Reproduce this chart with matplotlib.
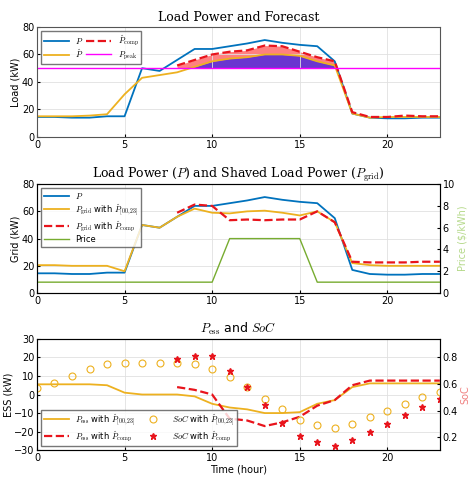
import matplotlib.pyplot as plt
import numpy as np

plt.rcParams['font.size'] = 7
plt.rcParams['mathtext.fontset'] = 'cm'

hours = np.arange(24)
hours_c = np.arange(8, 24)
P = [14.5, 14.5, 14, 14, 15, 15, 50, 48, 56, 64, 64, 66, 68, 70.5, 68.5, 67, 66, 55, 17, 14, 13.5, 13.5, 14, 14]
P_hat = [15, 15, 15, 15.5, 16.5, 31, 43, 45, 47, 51, 55, 57, 58, 60, 60, 59, 55, 52, 17, 14, 14.5, 14.5, 14.5, 14.5]
P_comp = [52, 56, 60, 62, 63, 66.5, 66, 62, 58, 55, 18, 14.5, 14.5, 15.5, 15, 15]
P_peak = 50
Pgrid_hat = [20.5, 20.5, 20, 20, 20, 16, 50, 48, 56, 62, 59, 58.5, 60, 60.5, 59, 57, 60, 52, 22, 20.5, 20, 20, 20, 20]
Pgrid_comp = [59, 65, 64, 53.5, 54, 53.5, 54, 54, 60, 52, 23, 22.5, 22.5, 22.5, 23, 23]
price = [1] * 11 + [5] * 5 + [1] * 8
Pess_hat = [5.5, 5.5, 5.5, 5.5, 5, 1, 0, 0, 0, -1, -5, -7, -8, -10, -10, -9.5, -5, -3, 4, 6, 6, 6, 6, 6]
Pess_comp = [4, 2.5, 0, -13, -14, -17, -15, -12, -6, -3, 5, 7.5, 7.5, 7.5, 7.5, 7.5]
soc_hat = [0.57, 0.61, 0.66, 0.71, 0.75, 0.76, 0.76, 0.76, 0.76, 0.75, 0.71, 0.65, 0.58, 0.49,
           0.41, 0.33, 0.29, 0.27, 0.30, 0.35, 0.40, 0.45, 0.50, 0.54]
soc_comp = [0.786, 0.81, 0.81, 0.70, 0.58, 0.44, 0.31, 0.21, 0.16, 0.13, 0.18, 0.24, 0.30, 0.37, 0.43, 0.49]

blue = '#0072BD'
orange = '#EDB120'
red = '#E8141C'
green = '#77AC30'

fig = plt.figure(figsize=(4.74, 4.82), dpi=100)
L, W = 0.078, 0.85
ax1 = fig.add_axes([L, 0.716, W, 0.228])
ax2 = fig.add_axes([L, 0.392, W, 0.226])
ax3 = fig.add_axes([L, 0.066, W, 0.231])

for ax in (ax1, ax2, ax3):
    ax.set_xlim(0, 23)
    ax.set_xticks([0, 5, 10, 15, 20])
    ax.grid(True, color='#e0e0e0', lw=0.6)
    ax.tick_params(length=2, direction='in', pad=2)
    for s in ax.spines.values():
        s.set_color('#555555')

# top
Ph = np.array(P_hat)
Pc = np.array(P_comp)
ax1.fill_between(hours_c[:10], P_peak, Pc[:10], color='#ff8080', lw=0)
ax1.fill_between(hours[8:18], P_peak, np.maximum(Ph[8:18], P_peak), color='#6a35d0', lw=0)
ax1.plot(hours, P, color=blue, lw=1.3, label=r'$P$')
ax1.plot(hours, P_hat, color=orange, lw=1.3, label=r'$\hat{P}$')
ax1.plot(hours_c, P_comp, '--', color=red, lw=1.6, label=r'$\hat{P}_{\rm comp}$')
ax1.axhline(P_peak, color='#ff00ff', lw=1.0, label=r'$P_{\rm peak}$')
ax1.set_ylim(0, 80)
ax1.set_ylabel('Load (kW)', labelpad=1)
ax1.set_title('Load Power and Forecast', fontsize=9, family='DejaVu Serif', pad=4)
ax1.legend(ncol=2, loc='upper left',
           fontsize=6, handlelength=3, columnspacing=0.3, borderpad=0.3, labelspacing=0.2,
           fancybox=False, edgecolor='#555555')

# middle
ax2.plot(hours, P, color=blue, lw=1.3, label=r'$P$')
ax2.plot(hours, Pgrid_hat, color=orange, lw=1.3, label=r'$P_{\rm grid}$ with $\hat{P}_{[00,23]}$')
ax2.plot(hours_c, Pgrid_comp, '--', color=red, lw=1.6, label=r'$P_{\rm grid}$ with $\hat{P}_{\rm comp}$')
ax2.set_ylim(0, 80)
ax2.set_ylabel('Grid (kW)', labelpad=1)
ax2.set_title(r'Load Power ($P$) and Shaved Load Power ($P_{\rm grid}$)', fontsize=9, family='DejaVu Serif', pad=4)
ax2b = ax2.twinx()
ax2b.plot(hours, price, color=green, lw=1.0, label='Price')
ax2b.set_ylim(0, 10)
ax2b.set_ylabel('Price ($/kWh)', color='#b5d98a', labelpad=2)
ax2b.tick_params(length=2, direction='in', pad=2)
h1, l1 = ax2.get_legend_handles_labels()
h2, l2 = ax2b.get_legend_handles_labels()
ax2.legend(h1 + h2, l1 + l2, loc='upper left', fontsize=6, handlelength=3, borderpad=0.3,
           labelspacing=0.2, fancybox=False, edgecolor='#555555')

# bottom
ax3.plot(hours, Pess_hat, color=orange, lw=1.3, label=r'$P_{\rm ess}$ with $\hat{P}_{[00,23]}$')
ax3.plot(hours_c, Pess_comp, '--', color=red, lw=1.6, label=r'$P_{\rm ess}$ with $\hat{P}_{\rm comp}$')
ax3.set_ylim(-30, 30)
ax3.set_yticks([-30, -20, -10, 0, 10, 20, 30])
ax3.set_ylabel('ESS (kW)', labelpad=0)
ax3.set_xlabel('Time (hour)', labelpad=1)
ax3.set_title(r'$P_{\rm ess}$ and $SoC$', fontsize=9, pad=4)
ax3b = ax3.twinx()
ax3b.plot(hours, soc_hat, 'o', mfc='none', mec=orange, ms=5, mew=0.8, label=r'$SoC$ with $\hat{P}_{[00,23]}$')
ax3b.plot(hours_c, soc_comp, '*', color=red, ms=5, label=r'$SoC$ with $\hat{P}_{\rm comp}$')
ax3b.set_ylim(0.102, 0.94)
ax3b.set_yticks([0.2, 0.4, 0.6, 0.8])
ax3b.set_ylabel('SoC', color='#f08080', labelpad=2)
ax3b.tick_params(length=2, direction='in', pad=2)
h1, l1 = ax3.get_legend_handles_labels()
h2, l2 = ax3b.get_legend_handles_labels()
ax3.legend([h1[0], h1[1], h2[0], h2[1]], [l1[0], l1[1], l2[0], l2[1]], ncol=2, loc='lower left',
           fontsize=6, handlelength=3, columnspacing=0.5, borderpad=0.3, labelspacing=0.2,
           fancybox=False, edgecolor='#555555')

fig.savefig('out.png', dpi=100)
